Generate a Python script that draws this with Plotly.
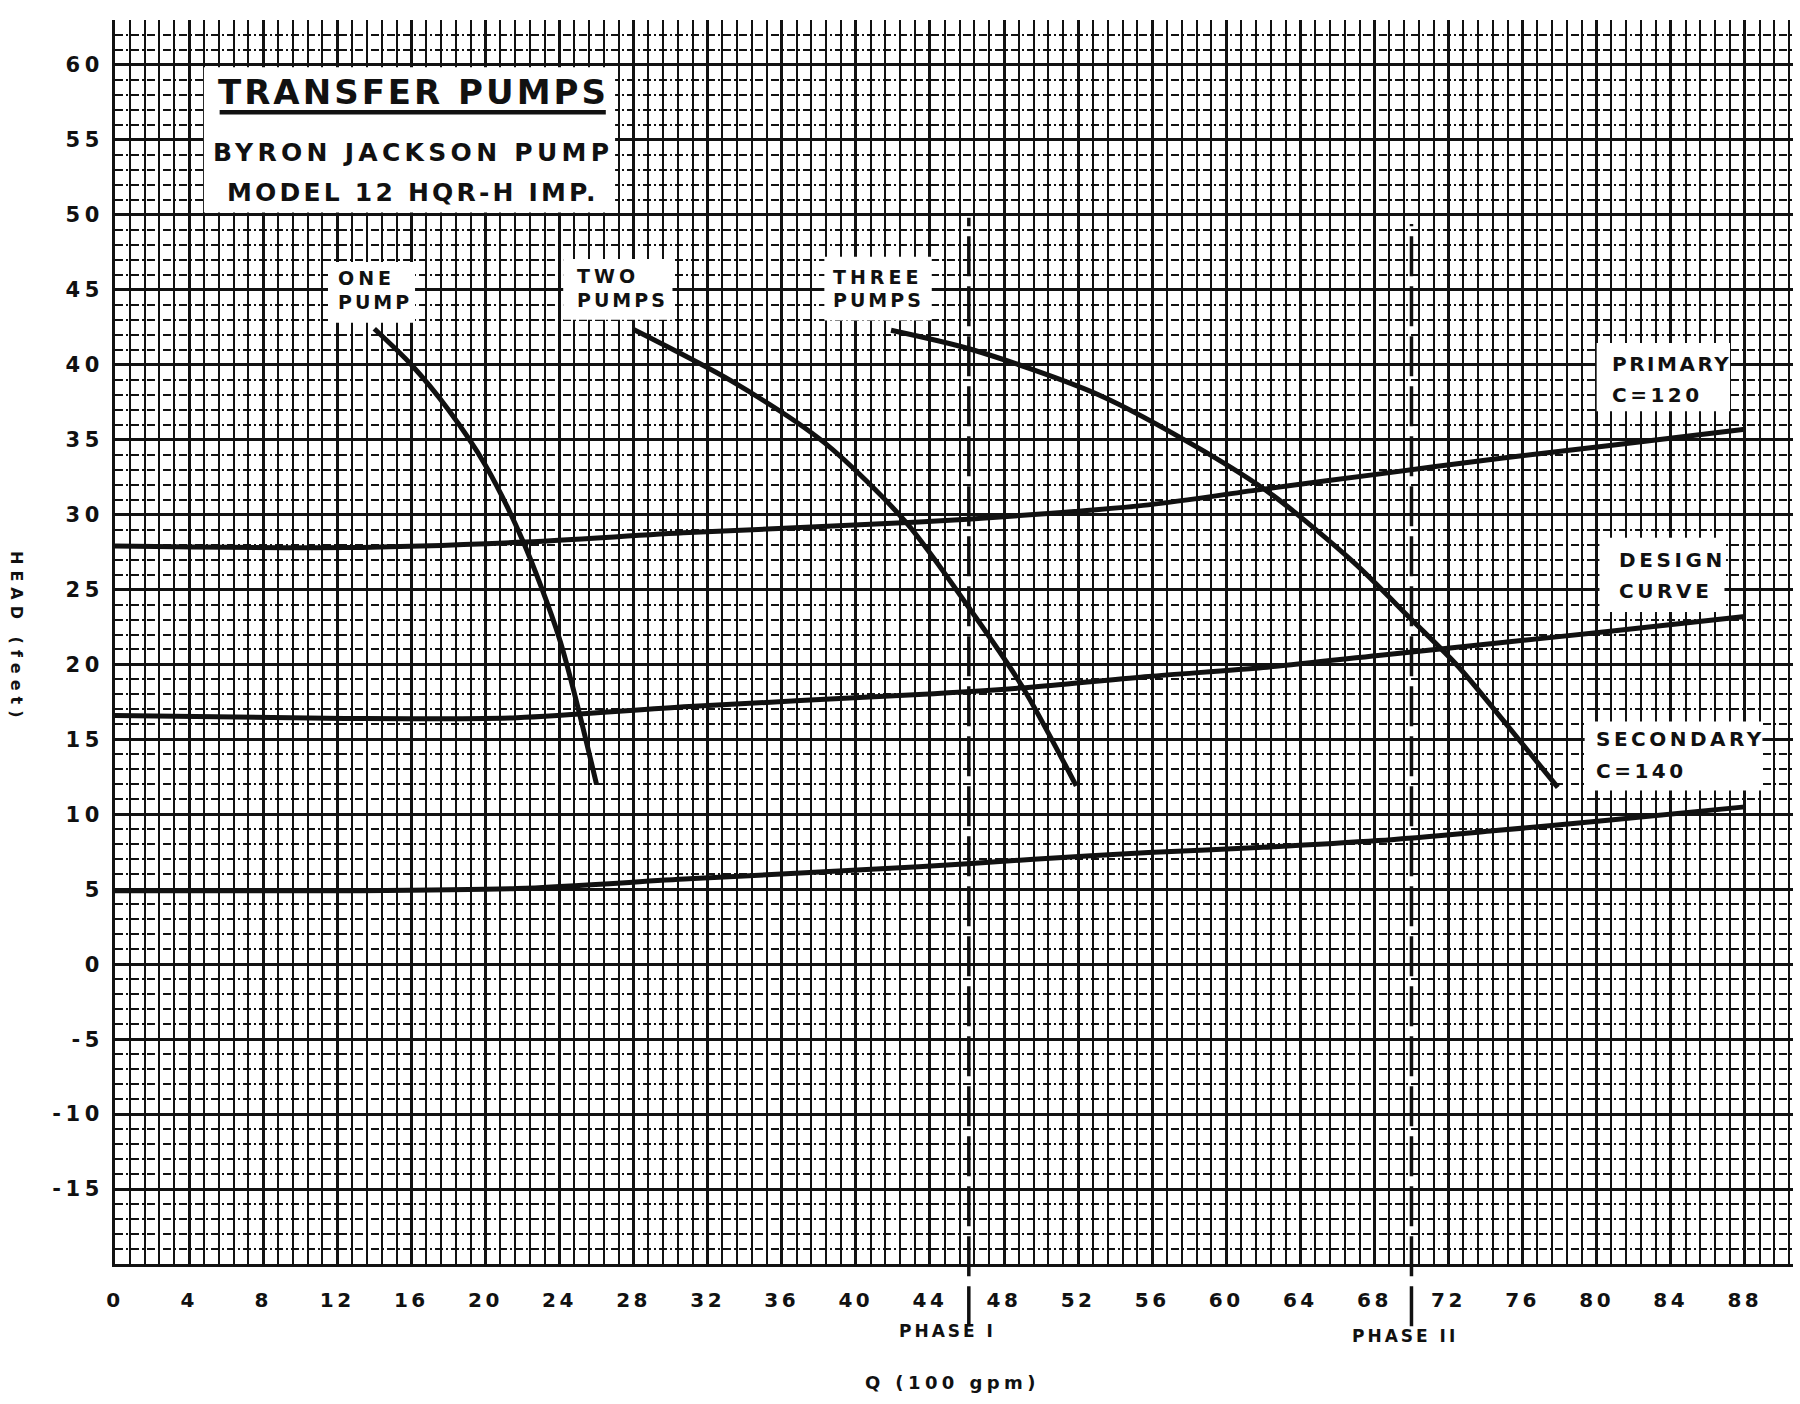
import plotly.graph_objects as go

# Pump curves: flow Q in hundreds of gpm vs. total head in feet
one_pump_q = [14.0, 16.0, 18.0, 20.0, 22.0, 24.0, 26.0]
one_pump_h = [42.4, 40.0, 37.0, 33.3, 28.3, 21.7, 12.0]

two_pumps_q = [28.0, 33.3, 38.3, 42.7, 46.1, 49.0, 51.9]
two_pumps_h = [42.35, 38.9, 34.8, 29.5, 23.8, 18.5, 11.9]

three_pumps_q = [41.9, 46.3, 53.1, 58.7, 62.5, 66.9, 70.0, 72.5, 75.0, 77.9]
three_pumps_h = [42.3, 41.0, 38.0, 34.3, 31.3, 26.8, 23.0, 19.9, 16.2, 11.8]

# System curves
system_q = [0, 12.4, 21.7, 31.0, 43.4, 49.6, 55.8, 62.0, 68.2, 74.4, 80.6, 88.0]
primary_h = [27.9, 27.8, 28.15, 28.8, 29.5, 30.0, 30.65, 31.7, 32.7, 33.7, 34.6, 35.7]
design_h = [16.6, 16.4, 16.45, 17.2, 18.0, 18.5, 19.2, 19.8, 20.6, 21.4, 22.2, 23.2]
secondary_h = [4.9, 4.9, 5.05, 5.7, 6.5, 7.0, 7.45, 7.8, 8.25, 8.9, 9.6, 10.5]

# Construction phases (Q at which each phase is reached)
phase_q = [46.1, 70.0]
phase_names = ["PHASE I", "PHASE II"]

# Axis ticks
q_ticks = list(range(0, 89, 4))
head_ticks = list(range(-15, 61, 5))

INK = "#111111"
FONT = "DejaVu Sans"


def spaced(text, px):
    return f'<span style="letter-spacing:{px}px">{text}</span>'


fig = go.Figure()

curve_line = dict(color=INK, width=5, shape="spline", smoothing=0.8)
for q, h, name in [
    (one_pump_q, one_pump_h, "One pump"),
    (two_pumps_q, two_pumps_h, "Two pumps"),
    (three_pumps_q, three_pumps_h, "Three pumps"),
    (system_q, primary_h, "Primary C=120"),
    (system_q, design_h, "Design curve"),
    (system_q, secondary_h, "Secondary C=140"),
]:
    fig.add_trace(go.Scatter(x=q, y=h, mode="lines", name=name,
                             line=curve_line, showlegend=False,
                             hoverinfo="skip"))

# White label panels that cover the graph-paper grid
panels = [
    (4.8, 27.0, 50.15, 59.85),   # title block
    (11.5, 16.2, 42.8, 46.85),   # ONE PUMP
    (24.2, 30.1, 43.0, 47.05),   # TWO PUMPS
    (38.3, 44.1, 42.95, 47.2),   # THREE PUMPS
    (80.0, 87.2, 36.9, 41.45),   # PRIMARY
    (80.15, 86.9, 23.5, 28.45),  # DESIGN CURVE
    (79.35, 88.95, 11.6, 16.2),  # SECONDARY
]
for x0, x1, y0, y1 in panels:
    fig.add_shape(type="rect", xref="x", yref="y", x0=x0, x1=x1, y0=y0, y1=y1,
                  fillcolor="white", line=dict(width=0), layer="between")

# Title underline
fig.add_shape(type="line", xref="x", yref="y", x0=5.65, x1=26.5, y0=56.85, y1=56.85,
              line=dict(color=INK, width=4.5), layer="above")

# Phase markers (dashed verticals running below the axis)
for q, top in zip(phase_q, [0.841, 0.836]):
    fig.add_shape(type="line", xref="x", yref="paper", x0=q, x1=q, y0=-0.05, y1=top,
                  line=dict(color=INK, width=3.5, dash="40px,10px"), layer="above")


def label(x, y, text, size=20, ls=3.5, xanchor="left", xref="x", yref="y", angle=0):
    fig.add_annotation(x=x, y=y, xref=xref, yref=yref, text=spaced(text, ls),
                       showarrow=False, xanchor=xanchor, yanchor="middle",
                       textangle=angle,
                       font=dict(family=FONT, size=size, color=INK, weight="bold"))


# Title block
label(16.1, 58.2, "TRANSFER PUMPS", size=34, ls=3, xanchor="center")
label(16.1, 54.17, "BYRON JACKSON PUMP", size=25, ls=4.3, xanchor="center")
label(16.1, 51.5, "MODEL 12 HQR-H IMP.", size=25, ls=3.2, xanchor="center")

# Curve labels
label(11.95, 45.78, "ONE", size=19, ls=4)
label(11.95, 44.2, "PUMP", size=19, ls=3)
label(24.86, 45.9, "TWO", size=19, ls=4)
label(24.86, 44.3, "PUMPS", size=19, ls=3)
label(38.64, 45.82, "THREE", size=19, ls=4)
label(38.64, 44.35, "PUMPS", size=19, ls=3)
label(80.7, 40.07, "PRIMARY", size=20, ls=2.5)
label(80.7, 38.0, "C=120", size=20, ls=3.5)
label(81.1, 27.0, "DESIGN", size=20, ls=3.6)
label(81.1, 24.93, "CURVE", size=20, ls=3.6)
label(79.85, 15.0, "SECONDARY", size=20, ls=3.5)
label(79.85, 12.87, "C=140", size=20, ls=3.5)

# Phase names and axis titles
label(0.4964, -0.0542, phase_names[0], size=17, ls=3, xanchor="center", xref="paper", yref="paper")
label(0.7688, -0.0582, phase_names[1], size=17, ls=3, xanchor="center", xref="paper", yref="paper")
label(0.4994, -0.0952, "Q (100 gpm)", size=18, ls=4.4, xanchor="center", xref="paper", yref="paper")
label(-0.0584, 0.504, "HEAD (feet)", size=16, ls=6, xanchor="center", xref="paper", yref="paper", angle=90)

fig.update_layout(
    width=1800, height=1404,
    margin=dict(l=115, r=7, t=20, b=139.5, autoexpand=False),
    paper_bgcolor="white", plot_bgcolor="white",
    showlegend=False,
)

fig.update_xaxes(
    range=[0, 90.6], tickmode="array", tickvals=q_ticks,
    ticktext=[spaced(str(v), 3.5) for v in q_ticks],
    tickfont=dict(family=FONT, size=20, color=INK, weight="bold"),
    ticks="", ticklabelstandoff=16,
    showgrid=True, gridcolor=INK, gridwidth=2.5,
    minor=dict(tickmode="linear", tick0=0, dtick=0.8, showgrid=True,
               gridcolor=INK, gridwidth=1.8),
    showline=True, linecolor=INK, linewidth=3, zeroline=False,
)
fig.update_yaxes(
    range=[-20, 63], tickmode="array", tickvals=head_ticks,
    ticktext=[spaced(str(v), 4.5) for v in head_ticks],
    tickfont=dict(family=FONT, size=21, color=INK, weight="bold"),
    ticks="", ticklabelstandoff=4,
    showgrid=True, gridcolor=INK, gridwidth=2.5,
    minor=dict(tickmode="linear", tick0=0, dtick=1, showgrid=True,
               gridcolor=INK, gridwidth=1.6, griddash="8px,3px,2px,3px"),
    showline=True, linecolor=INK, linewidth=3, zeroline=False,
)

fig.write_html("out.html")
